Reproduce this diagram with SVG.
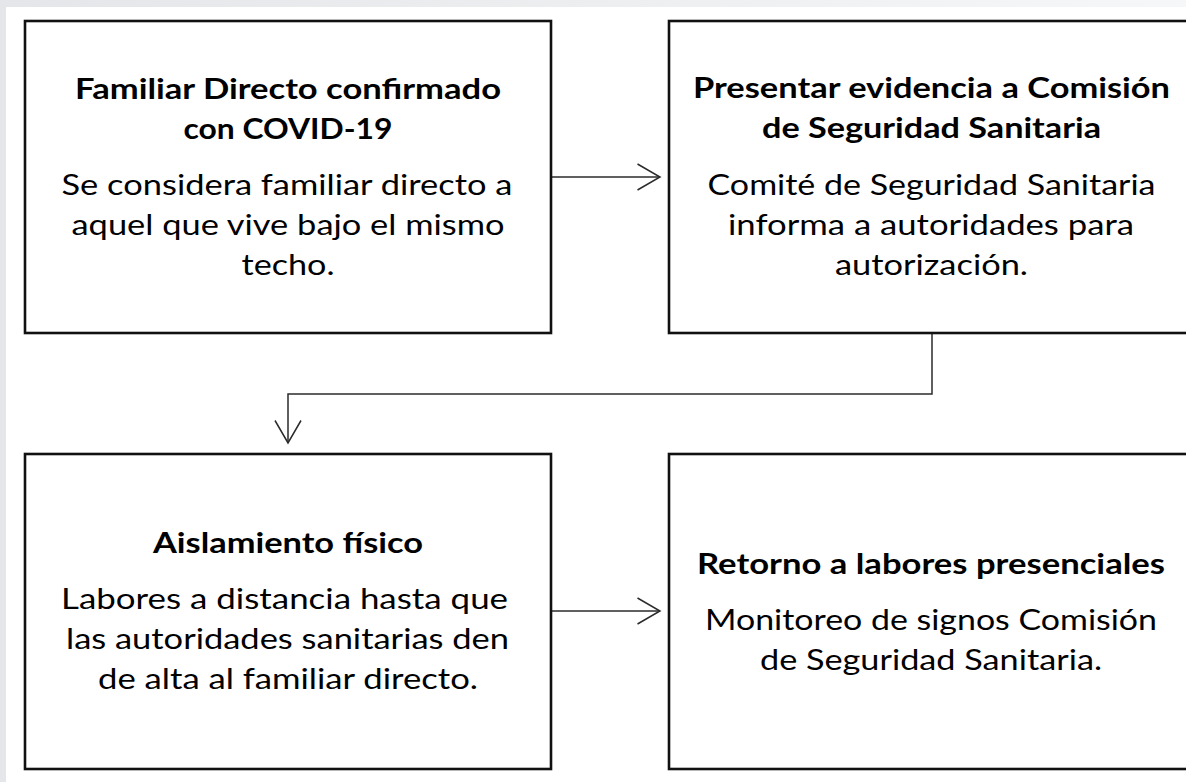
<svg xmlns="http://www.w3.org/2000/svg" width="1186" height="782" viewBox="0 0 1186 782">
  <defs>
    <linearGradient id="topband" x1="0" y1="0" x2="1" y2="0">
      <stop offset="0" stop-color="#e4e6e9"/>
      <stop offset="0.5" stop-color="#eceef0"/>
      <stop offset="1" stop-color="#f6f7f8"/>
    </linearGradient>
    <marker id="chev" viewBox="0 0 26 30" refX="24" refY="15" markerWidth="26" markerHeight="30" markerUnits="userSpaceOnUse" orient="auto">
      <path d="M1.5,2 L24,15 L1.5,28" fill="none" stroke="#2b2b2b" stroke-width="1.5"/>
    </marker>
    <style>
      .box { fill: #ffffff; stroke: #111111; stroke-width: 2.6; }
      .conn { fill: none; stroke: #2b2b2b; stroke-width: 1.5; marker-end: url(#chev); }
      .t { font-family: "Lato", "Open Sans", "Liberation Sans", sans-serif; font-size: 29px; fill: #000000; text-anchor: middle; }
      .b { font-weight: 700; }
    </style>
  </defs>

  <rect x="0" y="0" width="1186" height="782" fill="#ffffff"/>
  <rect x="0" y="0" width="1186" height="7" fill="url(#topband)"/>
  <rect x="0" y="0" width="6" height="782" fill="#e4e6e9"/>

  <g id="connectors">
    <path class="conn" d="M551,177 L660,177"/>
    <path class="conn" d="M932,333 L932,394 L288,394 L288,443"/>
    <path class="conn" d="M551,611 L660,611"/>
  </g>

  <g id="node-familiar">
    <rect class="box" x="25" y="21" width="526" height="312"/>
    <text class="t b" x="288" y="99" textLength="426" lengthAdjust="spacingAndGlyphs">Familiar Directo confirmado</text>
    <text class="t b" x="288" y="139" textLength="209" lengthAdjust="spacingAndGlyphs">con COVID-19</text>
    <text class="t" x="287" y="195" textLength="451" lengthAdjust="spacingAndGlyphs">Se considera familiar directo a</text>
    <text class="t" x="288" y="235" textLength="433" lengthAdjust="spacingAndGlyphs">aquel que vive bajo el mismo</text>
    <text class="t" x="288" y="275" textLength="93" lengthAdjust="spacingAndGlyphs">techo.</text>
  </g>

  <g id="node-presentar">
    <rect class="box" x="669" y="21" width="526" height="312"/>
    <text class="t b" x="931.5" y="98" textLength="477" lengthAdjust="spacingAndGlyphs">Presentar evidencia a Comisión</text>
    <text class="t b" x="931.5" y="138" textLength="339" lengthAdjust="spacingAndGlyphs">de Seguridad Sanitaria</text>
    <text class="t" x="931.5" y="195" textLength="448" lengthAdjust="spacingAndGlyphs">Comité de Seguridad Sanitaria</text>
    <text class="t" x="931" y="235" textLength="406" lengthAdjust="spacingAndGlyphs">informa a autoridades para</text>
    <text class="t" x="931.5" y="275" textLength="193" lengthAdjust="spacingAndGlyphs">autorización.</text>
  </g>

  <g id="node-aislamiento">
    <rect class="box" x="25" y="454" width="526" height="315"/>
    <text class="t b" x="288" y="553" textLength="270" lengthAdjust="spacingAndGlyphs">Aislamiento físico</text>
    <text class="t" x="284.5" y="609" textLength="447" lengthAdjust="spacingAndGlyphs">Labores a distancia hasta que</text>
    <text class="t" x="287.5" y="649" textLength="443" lengthAdjust="spacingAndGlyphs">las autoridades sanitarias den</text>
    <text class="t" x="288" y="689" textLength="380" lengthAdjust="spacingAndGlyphs">de alta al familiar directo.</text>
  </g>

  <g id="node-retorno">
    <rect class="box" x="669" y="454" width="526" height="315"/>
    <text class="t b" x="931" y="574" textLength="468" lengthAdjust="spacingAndGlyphs">Retorno a labores presenciales</text>
    <text class="t" x="931" y="630" textLength="452" lengthAdjust="spacingAndGlyphs">Monitoreo de signos Comisión</text>
    <text class="t" x="931" y="670" textLength="342" lengthAdjust="spacingAndGlyphs">de Seguridad Sanitaria.</text>
  </g>
</svg>
